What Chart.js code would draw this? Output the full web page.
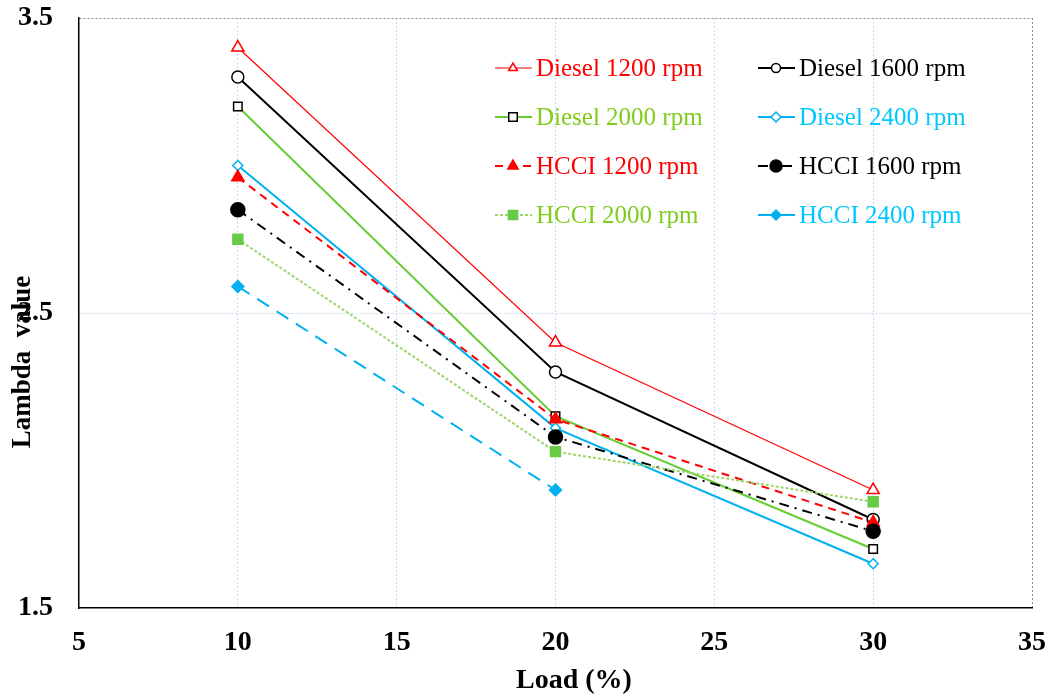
<!DOCTYPE html>
<html>
<head>
<meta charset="utf-8">
<script src="https://cdn.jsdelivr.net/npm/chart.js@4.4.1/dist/chart.umd.min.js"></script>
<style>
  html, body { margin: 0; padding: 0; background: #fff; }
  #wrap { width: 1050px; height: 696px; }
</style>
</head>
<body>
<div id="wrap"><canvas id="lambdaChart" width="1050" height="696"></canvas></div>
<script>
// values
const loads = [10, 20, 30];
const diesel1200 = [3.40, 2.40, 1.90];
const diesel1600 = [3.30, 2.30, 1.80];
const diesel2000 = [3.20, 2.15, 1.70];
const diesel2400 = [3.00, 2.11, 1.65];
const hcci1200 = [2.96, 2.14, 1.79];
const hcci1600 = [2.85, 2.08, 1.76];
const hcci2000 = [2.75, 2.03, 1.86];
const hcci2400 = [2.59, 1.90, null];

const xTicks = [5, 10, 15, 20, 25, 30, 35];
const yTicks = [1.5, 2.5, 3.5];

const FONT = '"Liberation Serif", "Times New Roman", serif';

function toPoints(values) {
    return loads.map((x, i) => ({ x: x, y: values[i] }));
}

function series(label, values, opts) {
    return Object.assign({
        label: label,
        data: toPoints(values),
        fill: false,
        tension: 0,
        spanGaps: false,
        borderWidth: 2,
        pointBorderWidth: 1.5
    }, opts);
}

const datasets = [
    series('HCCI 2400 rpm', hcci2400, {
        borderColor: '#00b0f0', borderDash: [14, 9], pointStyle: 'rectRot',
        pointRadius: 6, pointBackgroundColor: '#00b0f0', pointBorderColor: '#00b0f0',
        legendRadius: 5, textColor: '#00c8ff'
    }),
    series('HCCI 2000 rpm', hcci2000, {
        borderColor: '#9ed56a', borderDash: [3, 2], pointStyle: 'rect',
        pointRadius: 7, pointBackgroundColor: '#66cc44', pointBorderColor: '#66cc44',
        legendRadius: 6.5, textColor: '#7fcc1c'
    }),
    series('HCCI 1600 rpm', hcci1600, {
        borderColor: '#000000', borderDash: [10, 6, 2, 6], pointStyle: 'circle',
        pointRadius: 7, pointBackgroundColor: '#000000', pointBorderColor: '#000000',
        legendRadius: 6, textColor: '#000000'
    }),
    series('HCCI 1200 rpm', hcci1200, {
        borderColor: '#ff0000', borderDash: [8, 6], pointStyle: 'triangle',
        pointRadius: 7, pointBackgroundColor: '#ff0000', pointBorderColor: '#ff0000',
        legendRadius: 6, textColor: '#ff0000'
    }),
    series('Diesel 2400 rpm', diesel2400, {
        borderColor: '#00b0f0', pointStyle: 'rectRot',
        pointRadius: 5, pointBackgroundColor: '#ffffff', pointBorderColor: '#00b0f0',
        legendRadius: 5, textColor: '#00c8ff'
    }),
    series('Diesel 2000 rpm', diesel2000, {
        borderColor: '#66cc33', pointStyle: 'rect',
        pointRadius: 6, pointBackgroundColor: '#ffffff', pointBorderColor: '#000000',
        legendRadius: 6, textColor: '#7fcc1c'
    }),
    series('Diesel 1600 rpm', diesel1600, {
        borderColor: '#000000', pointStyle: 'circle',
        pointRadius: 6, pointBackgroundColor: '#ffffff', pointBorderColor: '#000000',
        legendRadius: 4.5, textColor: '#000000'
    }),
    series('Diesel 1200 rpm', diesel1200, {
        borderColor: '#ff0000', borderWidth: 1.2, pointStyle: 'triangle',
        pointRadius: 7, pointBackgroundColor: '#ffffff', pointBorderColor: '#ff0000',
        legendRadius: 5, textColor: '#ff0000'
    })
];

// legend order in the picture: 2 columns, 4 rows
const legendOrder = [
    'Diesel 1200 rpm', 'Diesel 1600 rpm',
    'Diesel 2000 rpm', 'Diesel 2400 rpm',
    'HCCI 1200 rpm', 'HCCI 1600 rpm',
    'HCCI 2000 rpm', 'HCCI 2400 rpm'
];

const boxLegend = {
    id: 'boxLegend',
    afterDraw(chart) {
        const ctx = chart.ctx;
        const colX = [495, 758];
        const rowY = [68, 117, 166, 215];
        ctx.save();
        ctx.font = '25px ' + FONT;
        ctx.textBaseline = 'middle';
        ctx.textAlign = 'left';
        legendOrder.forEach((name, i) => {
            const ds = chart.data.datasets.find(d => d.label === name);
            const x0 = colX[i % 2];
            const y = rowY[Math.floor(i / 2)];
            ctx.save();
            ctx.strokeStyle = ds.borderColor;
            ctx.lineWidth = ds.borderWidth;
            ctx.setLineDash(ds.borderDash || []);
            ctx.beginPath();
            ctx.moveTo(x0, y);
            ctx.lineTo(x0 + 37, y);
            ctx.stroke();
            ctx.restore();
            ctx.save();
            ctx.fillStyle = ds.pointBackgroundColor;
            ctx.strokeStyle = ds.pointBorderColor;
            ctx.lineWidth = ds.pointBorderWidth;
            Chart.helpers.drawPoint(ctx, {
                pointStyle: ds.pointStyle,
                radius: ds.legendRadius,
                borderWidth: ds.pointBorderWidth,
                rotation: 0
            }, x0 + 18, y);
            ctx.restore();
            ctx.fillStyle = ds.textColor;
            ctx.fillText(name, x0 + 41, y + 1);
        });
        ctx.restore();
    }
};

const axisTitles = {
    id: 'axisTitles',
    afterDraw(chart) {
        const ctx = chart.ctx;
        ctx.save();
        ctx.fillStyle = '#000';
        ctx.font = 'bold 28px ' + FONT;
        ctx.textAlign = 'center';
        ctx.textBaseline = 'middle';
        ctx.fillText('Load (%)', 574, 681);
        ctx.font = 'bold 27px ' + FONT;
        ctx.translate(23, 362);
        ctx.rotate(-Math.PI / 2);
        ctx.fillText('Lambda  value', 0, 0);
        ctx.restore();
    }
};

new Chart(document.getElementById('lambdaChart').getContext('2d'), {
    type: 'line',
    data: { datasets: datasets },
    options: {
        responsive: false,
        animation: false,
        layout: { padding: { top: 18, right: 18, left: 0, bottom: 0 } },
        plugins: {
            legend: { display: false },
            tooltip: { enabled: false }
        },
        scales: {
            x: {
                type: 'linear',
                min: 5,
                max: 35,
                afterBuildTicks: scale => { scale.ticks = xTicks.map(v => ({ value: v })); },
                afterFit: scale => {
                    scale.height = 88;
                    scale.paddingLeft = 0;
                    scale.paddingRight = 0;
                },
                ticks: {
                    color: '#000',
                    padding: 18,
                    font: { family: FONT, size: 28, weight: 'bold' }
                },
                grid: {
                    drawTicks: false,
                    lineWidth: 1,
                    color: c => c.tick.value === 35 ? '#8c8c8c' : (c.tick.value === 5 ? 'rgba(0,0,0,0)' : '#c5d9f1')
                },
                border: { display: true, color: '#000', width: 1.5, dash: [2, 2] }
            },
            y: {
                min: 1.5,
                max: 3.5,
                afterBuildTicks: scale => { scale.ticks = yTicks.map(v => ({ value: v })); },
                afterFit: scale => {
                    scale.width = 79;
                    scale.paddingTop = 0;
                    scale.paddingBottom = 0;
                },
                ticks: {
                    color: '#000',
                    padding: 26,
                    font: { family: FONT, size: 28, weight: 'bold' },
                    callback: v => v.toFixed(1)
                },
                grid: {
                    drawTicks: false,
                    lineWidth: 1,
                    color: c => c.tick.value === 3.5 ? '#8c8c8c' : (c.tick.value === 1.5 ? 'rgba(0,0,0,0)' : '#c5d9f1')
                },
                border: { display: true, color: '#000', width: 1.5, dash: [2, 2] }
            }
        }
    },
    plugins: [boxLegend, axisTitles]
});
</script>
</body>
</html>
